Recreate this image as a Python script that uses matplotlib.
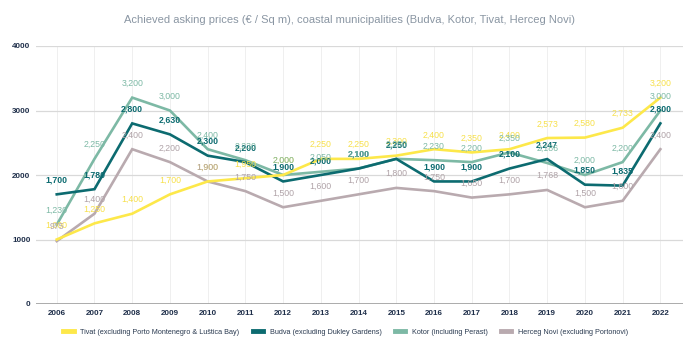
import matplotlib
matplotlib.use("Agg")
import matplotlib.pyplot as plt

years = list(range(2006, 2023))
tivat = [1000, 1250, 1400, 1700, 1900, 1950, 2000, 2250, 2250, 2300, 2400, 2350, 2400, 2573, 2580, 2733, 3200]
budva = [1700, 1780, 2800, 2630, 2300, 2200, 1900, 2000, 2100, 2250, 1900, 1900, 2100, 2247, 1850, 1835, 2800]
kotor = [1230, 2250, 3200, 3000, 2400, 2230, 2000, 2050, 2100, 2250, 2230, 2200, 2350, 2186, 2000, 2200, 3000]
herceg = [975, 1400, 2400, 2200, 1900, 1750, 1500, 1600, 1700, 1800, 1750, 1650, 1700, 1768, 1500, 1600, 2400]

names = ["Tivat (excluding Porto Montenegro & Luštica Bay)",
         "Budva (excluding Dukley Gardens)",
         "Kotor (including Perast)",
         "Herceg Novi (excluding Portonovi)"]
series = [tivat, budva, kotor, herceg]
colors = ["#fde84a", "#0c6b70", "#7db9a5", "#b9aaaf"]
label_colors = ["#f7e04a", "#0c6b70", "#7db9a5", "#b0a3a8"]
weights = ["normal", "bold", "normal", "normal"]

plt.rcParams['font.family'] = ['Liberation Sans', 'DejaVu Sans']

fig = plt.figure(figsize=(7, 3.56), dpi=100)
ax = fig.add_axes([36/700, 1-304/356, (683-36)/700, (304-46)/356])

order = [3, 2, 1, 0]
for i in order:
    ax.plot(years, series[i], color=colors[i], lw=1.9, label=names[i], zorder=3 + (3 - i) * 0.1,
            solid_joinstyle='miter')

for i in range(4):
    for x, v in zip(years, series[i]):
        ax.annotate(f"{v:,}", (x, v), xytext=(0, 7), textcoords='offset points',
                    ha='center', va='bottom', fontsize=6.3, color=label_colors[i],
                    fontweight=weights[i], zorder=6)

ax.set_xlim(2006 - 0.55, 2022 + 0.6)
ax.set_ylim(0, 4000)
ax.set_yticks([0, 1000, 2000, 3000, 4000])
ax.set_xticks(years)
ax.set_yticklabels(["0", "1000", "2000", "3000", "4000"])
ax.tick_params(axis='both', length=0, labelsize=5.8, labelcolor="#1f2f4a", pad=4)
for lab in ax.get_xticklabels() + ax.get_yticklabels():
    lab.set_fontweight('bold')
ax.grid(axis='y', color="#d9d9d9", lw=0.9)
ax.grid(axis='x', color="#ececec", lw=0.6)
ax.axhline(0, color="#9e9e9e", lw=1.2, zorder=2)
for s in ax.spines.values():
    s.set_visible(False)
ax.set_axisbelow(True)

fig.text(0.5, 1 - 20/356, "Achieved asking prices (€ / Sq m), coastal municipalities (Budva, Kotor, Tivat, Herceg Novi)",
         ha='center', va='center', fontsize=8, color="#8a96a3")

handles = [plt.Line2D([0], [0], color=colors[i], lw=3.5) for i in range(4)]
fig.legend(handles, names, loc='center', bbox_to_anchor=(0.494, 1 - 332/356), ncol=4, frameon=False,
           fontsize=5.2, handlelength=1.4, columnspacing=1.9,
           handletextpad=0.9, labelcolor="#2a3a50")

fig.savefig("out.png", dpi=100)
